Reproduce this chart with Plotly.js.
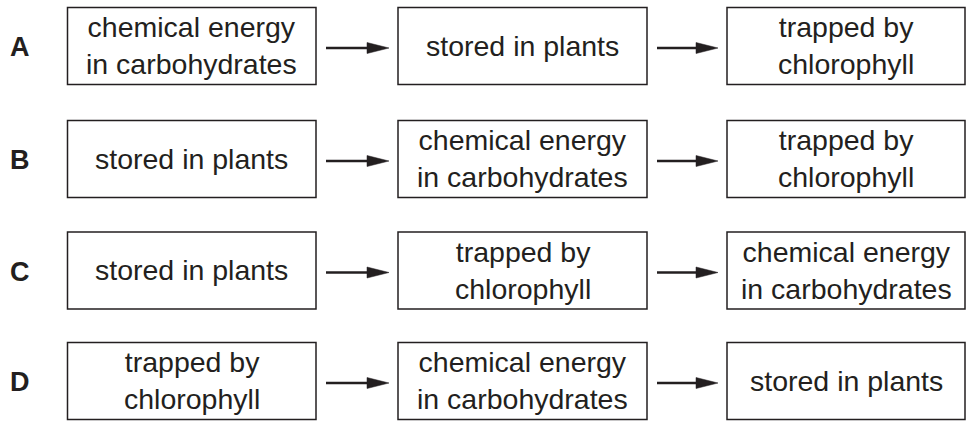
<!DOCTYPE html>
<html>
<head>
<meta charset="utf-8">
<script src="https://cdn.plot.ly/plotly-3.0.1.min.js"></script>
<style>html,body{margin:0;padding:0;background:#fff;}#chart{width:967px;height:421px;}</style>
</head>
<body>
<div id="chart"></div>
<script>
// ---- data ----
const rowLabels = ['A', 'B', 'C', 'D'];
const step1 = ['chemical energy<br>in carbohydrates', 'stored in plants', 'stored in plants', 'trapped by<br>chlorophyll'];
const step2 = ['stored in plants', 'chemical energy<br>in carbohydrates', 'trapped by<br>chlorophyll', 'chemical energy<br>in carbohydrates'];
const step3 = ['trapped by<br>chlorophyll', 'trapped by<br>chlorophyll', 'chemical energy<br>in carbohydrates', 'stored in plants'];

// ---- layout geometry ----
const W = 967, H = 421;
const colX = [[67.5, 316], [398, 647], [727, 965]];
const rowY = [46, 159, 270.5, 381];
const halfH = 38.5;
const labelX = 20;
const ink = '#231f20';
const fontFam = '"Liberation Sans", Arial, Helvetica, sans-serif';

const steps = [step1, step2, step3];
const shapes = [];
const annotations = [];

rowLabels.forEach((lab, r) => {
  const yc = rowY[r];
  annotations.push({
    x: labelX, y: yc + 1, xref: 'x', yref: 'y', text: '<b>' + lab + '</b>',
    showarrow: false, font: {family: fontFam, size: 27, color: ink},
    xanchor: 'center', yanchor: 'middle'
  });
  steps.forEach((col, c) => {
    const [x0, x1] = colX[c];
    shapes.push({
      type: 'rect', xref: 'x', yref: 'y', x0: x0, x1: x1, y0: yc - halfH, y1: yc + halfH,
      line: {color: ink, width: 1.5}, fillcolor: 'rgba(0,0,0,0)'
    });
    annotations.push({
      x: (x0 + x1) / 2, y: yc - 0.5, xref: 'x', yref: 'y', text: col[r],
      showarrow: false, font: {family: fontFam, size: 28.5, color: ink},
      xanchor: 'center', yanchor: 'middle', align: 'center'
    });
    if (c < steps.length - 1) {
      const ax0 = x1 + 10, ax1 = colX[c + 1][0] - 9;
      const ay = yc + 2;
      const headLen = 22, headHalf = 5.5;
      shapes.push({
        type: 'line', xref: 'x', yref: 'y', x0: ax0, x1: ax1 - headLen + 2, y0: ay, y1: ay,
        line: {color: ink, width: 2.4}
      });
      shapes.push({
        type: 'path', xref: 'x', yref: 'y',
        path: `M ${ax1 - headLen} ${ay - headHalf} L ${ax1} ${ay} L ${ax1 - headLen} ${ay + headHalf} Z`,
        fillcolor: ink, line: {color: ink, width: 0.5}
      });
    }
  });
});

const layout = {
  width: W, height: H,
  margin: {l: 0, r: 0, t: 0, b: 0, pad: 0},
  paper_bgcolor: '#ffffff', plot_bgcolor: '#ffffff',
  xaxis: {range: [0, W], visible: false, fixedrange: true},
  yaxis: {range: [H, 0], visible: false, fixedrange: true},
  shapes: shapes,
  annotations: annotations,
  showlegend: false
};

Plotly.newPlot('chart', [{x: [], y: [], type: 'scatter', hoverinfo: 'skip'}], layout, {staticPlot: true, displayModeBar: false});
</script>
</body>
</html>
